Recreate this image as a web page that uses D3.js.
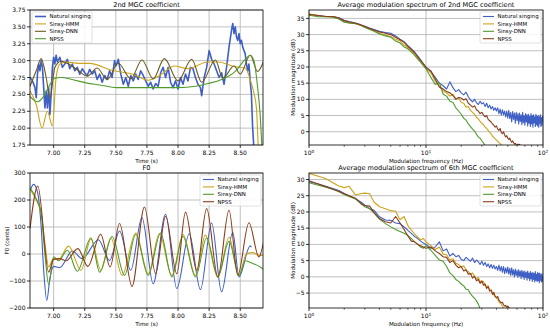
<!DOCTYPE html>
<html>
<head>
<meta charset="utf-8">
<script src="https://cdn.jsdelivr.net/npm/d3@7"></script>
<style>
body { margin: 0; background: #fff; }
svg { font-family: "DejaVu Sans", sans-serif; }
</style>
</head>
<body>
<svg id="chart" width="550" height="328"></svg>
<script>
//four panels: 2nd MGC track, F0 track, and two modulation spectra

var seriesNames = ["Natural singing", "Sinsy-HMM", "Sinsy-DNN", "NPSS"];

//---- 2nd MGC coefficient over time, [time, value]
var mgcNatural = [[6.81,2.75],[6.83,2.7],[6.85,2.6],[6.86,2.45],[6.87,2.8],[6.88,2.95],[6.89,2.85],[6.90,3.0],[6.91,2.9],[6.92,2.6],
  [6.93,2.3],[6.94,2.55],[6.95,2.3],[6.96,2.6],[6.97,2.2],[6.98,2.5],[6.99,2.9],[7.00,3.05],[7.01,2.95],[7.02,3.08],[7.03,2.98],
  [7.05,3.05],[7.07,2.9],[7.09,2.95],[7.11,3.02],[7.13,2.88],[7.15,2.95],[7.17,2.85],[7.19,2.9],[7.21,2.8],[7.23,2.88],[7.25,2.82],
  [7.27,2.78],[7.29,2.87],[7.31,2.8],[7.33,2.85],[7.35,2.72],[7.37,2.8],[7.39,2.68],[7.41,2.78],[7.43,2.72],[7.45,2.85],[7.47,2.75],
  [7.49,3.0],[7.50,2.92],[7.52,3.02],[7.54,2.8],[7.56,2.65],[7.58,2.75],[7.60,2.62],[7.62,2.78],[7.64,2.7],[7.66,2.8],[7.68,2.72],
  [7.70,2.85],[7.72,2.78],[7.74,2.7],[7.76,2.62],[7.78,2.68],[7.80,2.58],[7.82,2.66],[7.84,2.62],[7.86,2.82],[7.88,2.9],[7.90,2.75],
  [7.92,2.9],[7.94,2.68],[7.96,2.6],[7.98,2.7],[8.00,2.58],[8.02,2.75],[8.04,2.65],[8.06,2.8],[8.08,2.7],[8.10,2.9],[8.12,2.88],
  [8.14,2.75],[8.16,2.65],[8.18,2.6],[8.19,2.48],[8.21,2.75],[8.23,2.9],[8.25,3.15],[8.27,3.02],[8.29,2.95],[8.31,2.85],[8.33,2.75],
  [8.35,2.82],[8.37,2.65],[8.39,2.9],[8.41,3.2],[8.43,3.45],[8.44,3.55],[8.45,3.4],[8.46,3.5],[8.47,3.35],[8.48,3.3],[8.49,3.4],
  [8.50,3.25],[8.51,3.3],[8.52,3.2],[8.53,3.15],[8.54,3.1],[8.55,2.95],[8.56,2.85],[8.57,2.95],[8.58,2.7],[8.59,2.5],[8.60,2.0],[8.61,1.7]];
var mgcHmm = [[6.81,2.55],[6.86,2.35],[6.907,2.0],[6.95,2.25],[6.99,2.03],[7.02,2.75],[7.05,2.95],[7.10,2.98],[7.20,2.96],[7.29,2.96],
  [7.46,2.86],[7.65,2.79],[7.76,2.71],[7.86,2.79],[7.97,2.92],[8.08,2.88],[8.24,2.98],[8.32,2.98],[8.46,2.91],[8.54,2.89],
  [8.58,2.72],[8.61,2.52],[8.63,2.3],[8.645,1.7]];
var mgcDnn = [[6.81,2.62],[6.86,2.85],[6.90,3.03],[6.94,2.75],[6.97,2.45],[7.01,2.9],[7.06,2.99],[7.12,2.95],[7.20,2.85],[7.27,2.77],
  [7.35,2.89],[7.43,2.72],[7.52,2.96],[7.62,2.73],[7.71,3.01],[7.80,2.73],[7.89,3.03],[8.00,2.7],[8.11,3.02],[8.19,2.68],[8.30,3.01],
  [8.36,2.74],[8.45,2.92],[8.50,2.8],[8.58,3.08],[8.64,2.84],[8.69,3.0]];
var mgcNpss = [[6.81,2.47],[6.87,2.39],[6.92,2.47],[6.96,2.61],[7.01,2.74],[7.06,2.75],[7.15,2.72],[7.26,2.67],[7.37,2.64],[7.51,2.60],
  [7.78,2.60],[8.00,2.60],[8.14,2.62],[8.24,2.66],[8.35,2.72],[8.46,2.84],[8.54,3.02],[8.58,3.08],[8.61,3.0],[8.64,2.6],[8.66,2.2],[8.675,1.7]];

//---- F0 in cents, [time, value]
var f0Natural = [[6.81,235],[6.84,258],[6.87,230],[6.90,100],[6.92,-60],[6.945,-172],[6.97,-90],[7.00,-46],[7.05,-50],[7.15,11],
  [7.23,-17],[7.36,53],[7.45,-24],[7.53,85],[7.62,-60],[7.71,135],[7.80,-110],[7.90,147],[7.99,-128],[8.09,75],[8.18,-132],
  [8.27,115],[8.35,-140],[8.44,80],[8.49,-85],[8.58,30],[8.59,25]];
var f0Hmm = [[6.81,240],[6.86,200],[6.90,150],[6.93,40],[6.96,-48],[7.00,-15],[7.04,-20],[7.12,29],[7.22,-60],[7.30,56],[7.38,-60],
  [7.46,59],[7.55,-79],[7.66,78],[7.76,-73],[7.85,75],[7.95,-79],[8.04,72],[8.14,-79],[8.22,70],[8.32,-85],[8.41,62],[8.49,-79],
  [8.55,0],[8.60,5],[8.65,-5],[8.69,-5]];
var f0Dnn = [[6.81,245],[6.86,205],[6.90,150],[6.93,0],[6.96,-113],[7.00,-10],[7.04,-25],[7.11,14],[7.19,-64],[7.30,59],[7.37,-67],
  [7.47,65],[7.57,-79],[7.66,72],[7.76,-79],[7.86,78],[7.95,-85],[8.04,65],[8.14,-85],[8.23,59],[8.32,-85],[8.41,47],[8.49,-79],
  [8.54,-25],[8.60,-35],[8.65,-45],[8.69,-58]];
var f0Npss = [[6.81,94],[6.873,252],[6.96,-67],[7.00,-20],[7.05,-17],[7.10,-25],[7.195,20],[7.275,-46],[7.378,73],[7.454,-48],
  [7.53,113],[7.63,-120],[7.73,174],[7.82,-73],[7.90,140],[7.99,-73],[8.06,155],[8.15,-60],[8.23,168],[8.32,-85],[8.41,162],
  [8.48,-79],[8.57,116],[8.65,-11],[8.69,50]];

//---- modulation spectrum frequency bins (Hz)
var modFreq = [1,1.2,1.4,1.6,1.8,2,2.2,2.5,2.8,3,3.3,3.6,4,4.5,5,5.5,6,6.5,7,7.5,8,8.5,9,9.5,
  10,11,12,13,14,15,16,17,18,19,20,21,22,23,24,25,26,27,28,29,30,31,32,33,34,35,36,37,38,39,40,
  41,42,43,44,45,46,47,48,49,50,51,52,53,54,55,56,57,58,59,60,61,62,63,64,65,66,67,68,69,70,
  71,72,73,74,75,76,77,78,79,80,81,82,83,84,85,86,87,88,89,90,91,92,93,94,95,96,97,98,99,100];

//2nd MGC spectrum (dB), one value per bin, series stop once below the axis
var ms2Natural = [36.3,35.9,35.6,35.6,35.2,34.4,34.0,33.6,33.0,32.6,32.0,31.6,31.0,30.6,30.4,29.6,28.6,27.8,26.6,25.6,24.6,23.4,22.2,21.0,
  20.0,18.6,16.8,15.0,14.2,13.2,15.4,13.6,12.4,13.0,12.0,11.4,12.2,10.8,9.8,9.2,10.0,9.0,8.4,9.4,8.6,9.0,7.8,8.8,7.4,8.2,7.0,7.8,6.6,7.4,6.4,
  7.4,5.6,7.0,5.2,6.8,5.2,6.4,4.6,6.4,4.2,6.6,4.0,6.0,3.0,6.2,3.8,5.8,2.6,6.0,3.4,5.6,2.4,5.8,3.2,5.2,2.2,6.0,2.8,5.0,2.0,
  5.6,3.0,5.2,1.8,5.4,2.6,4.8,1.6,5.6,2.4,5.0,1.4,5.2,2.8,4.6,1.6,5.4,2.2,4.8,1.8,5.0,1.4,4.6,2.6,5.2,1.6,4.4,2.0,4.8,3.0];
var ms2Hmm = [36.4,35.8,35.5,35.5,35.0,34.0,33.6,33.4,32.8,32.4,31.8,31.2,30.4,29.8,29.4,28.6,28.0,26.8,26.0,25.0,24.0,22.8,21.8,20.8,
  19.6,18.2,15.6,14.0,12.6,12.0,11.0,11.6,10.2,10.4,9.0,8.8,7.6,7.8,6.6,6.0,5.4,4.4,4.0,3.2,2.6,2.2,1.4,1.0,0.4,-0.2,-0.6,-1.4,-1.8,-2.2,-2.6,
  -3.0,-3.4,-3.6,-4.2,-4.6];
var ms2Dnn = [36.0,35.5,35.5,35.4,34.8,33.8,33.6,33.4,32.8,32.2,31.6,31.0,30.2,29.6,29.2,28.0,27.4,26.2,25.6,24.6,23.6,22.4,21.4,20.4,
  19.4,16.8,14.6,15.2,11.6,11.0,9.4,9.0,7.4,6.4,5.4,4.2,3.6,2.4,1.6,0.8,0.2,-0.8,-1.6,-2.0,-2.8,-3.4,-4.4];
var ms2Npss = [36.2,35.9,35.6,35.6,35.1,34.3,33.9,33.5,32.9,32.5,31.9,31.4,30.8,30.4,30.0,29.2,28.4,27.6,26.4,25.4,24.4,23.2,22.0,21.0,
  19.8,18.8,16.2,13.8,13.2,12.4,12.0,11.2,10.0,10.6,10.4,9.8,10.2,8.8,8.2,7.6,8.0,6.8,6.4,5.6,6.0,5.2,4.6,5.0,3.8,3.4,3.0,2.4,2.0,1.4,1.8,
  0.8,0.4,1.0,-0.2,-0.6,0.0,-1.0,-1.6,-1.2,-2.0,-2.4,-2.0,-2.8,-3.2,-2.8,-3.4,-3.8,-3.6,-4.0,-4.4,-3.8,-4.2,-3.9,-4.4];

//6th MGC spectrum (dB)
var ms6Natural = [29.3,28.6,27.8,27.2,26.6,25.7,25.0,24.1,23.0,22.1,21.0,20.5,18.5,17.5,17.4,16.6,16.4,15.4,14.3,13.4,12.4,11.8,11.0,10.4,
  10.0,8.8,9.2,10.8,8.0,8.6,6.4,7.2,6.2,6.6,5.4,5.0,6.0,5.4,4.8,5.8,4.4,5.2,4.6,3.8,4.8,3.6,4.4,3.2,4.0,2.8,3.8,2.6,3.6,2.4,3.2,
  2.0,3.6,1.8,3.2,1.4,3.2,1.0,2.8,1.2,3.0,0.8,2.6,0.4,2.8,0.6,2.2,0.0,2.4,0.4,2.0,-0.2,2.2,0.2,1.8,-0.6,2.0,0.0,1.6,-0.8,1.8,
  -0.2,1.4,-1.0,1.8,-0.4,1.2,-1.2,1.6,-0.6,1.2,-1.4,1.4,-0.8,1.0,-1.6,1.6,-1.0,0.8,-1.4,1.4,-1.2,1.0,-1.8,1.2,-1.0,0.6,-1.6,1.0,-1.4,0.2];
var ms6Hmm = [31.9,31.0,30.2,29.0,28.0,27.5,27.9,25.2,25.7,25.8,25.6,23.0,21.6,21.0,20.4,20.2,17.6,18.6,15.8,14.4,13.2,12.2,11.4,11.8,
  10.8,9.6,8.4,9.2,7.0,6.8,5.2,5.6,4.2,3.8,3.0,3.4,2.0,1.6,0.8,1.2,0.0,-0.6,-0.2,-1.4,-1.8,-1.4,-2.6,-3.0,-2.8,-4.0,-4.4,-4.8,-5.6,-6.0,-6.6,
  -6.8,-7.6,-8.0,-8.4,-9.0,-9.8];
var ms6Dnn = [29.0,28.2,27.6,27.0,26.2,25.4,24.8,24.0,22.6,21.6,21.0,19.6,17.8,16.4,15.4,14.6,14.0,13.4,12.8,11.8,10.8,10.0,9.2,8.8,
  9.6,8.2,6.6,5.2,4.8,3.2,1.2,0.4,-0.8,-1.4,-2.2,-2.8,-3.8,-4.0,-5.2,-6.0,-6.6,-7.4,-8.4,-9.8];
var ms6Npss = [29.6,28.6,27.8,27.0,26.4,25.6,25.0,24.2,22.4,22.0,21.8,19.8,18.0,17.0,16.6,18.6,16.6,14.6,12.6,11.0,10.8,10.0,9.6,9.2,
  8.8,9.2,8.0,7.2,6.2,6.0,4.4,5.0,3.6,2.8,3.2,1.8,2.2,0.8,1.0,-0.4,0.2,-1.2,-0.8,-2.0,-1.2,-2.6,-2.2,-3.6,-3.0,-4.4,-4.0,-5.4,-4.8,-6.0,-6.4,
  -6.0,-7.2,-7.6,-8.0,-7.8,-8.6,-9.0,-8.8,-9.4,-9.0,-9.4,-9.8];

//---- ticks
var timeTicks = [7.00, 7.25, 7.50, 7.75, 8.00, 8.25, 8.50];
var mgcTicks = [1.75, 2.00, 2.25, 2.50, 2.75, 3.00, 3.25, 3.50, 3.75];
var f0Ticks = [-200, -100, 0, 100, 200, 300];
var ms2Ticks = [0, 5, 10, 15, 20, 25, 30, 35];
var ms6Ticks = [-5, 0, 5, 10, 15, 20, 25, 30];
var decadeTicks = [1, 10, 100];

var blue = "#3f5fc4", yellow = "#cca41a", green = "#4f9b2c", brown = "#8a3c1c", olive = "#6e5a1e";

var svg = d3.select("#chart");
var minus = function(d){ return d < 0 ? "\u2212" + Math.abs(d) : "" + d; };

function pairsOf(freq, vals){
    return vals.map(function(v, i){ return [freq[i], v]; });
}

function drawPanel(o){
    var g = svg.append("g");
    var x = o.x, y = o.y;
    var x0 = x.range()[0], x1 = x.range()[1], yb = y.range()[0], yt = y.range()[1];

    //grid
    g.selectAll(".gx").data(o.xGrid).enter().append("line")
        .attr("x1", function(d){ return x(d); }).attr("x2", function(d){ return x(d); })
        .attr("y1", yt).attr("y2", yb).attr("stroke", "#b0b0b0").attr("stroke-width", 0.8);
    g.selectAll(".gy").data(o.yTicks).enter().append("line")
        .attr("x1", x0).attr("x2", x1)
        .attr("y1", function(d){ return y(d); }).attr("y2", function(d){ return y(d); })
        .attr("stroke", "#b0b0b0").attr("stroke-width", 0.8);

    //lines, clipped to the axes box
    var clipId = "clip" + o.id;
    svg.append("clipPath").attr("id", clipId).append("rect")
        .attr("x", x0).attr("y", yt).attr("width", x1 - x0).attr("height", yb - yt);
    var lg = g.append("g").attr("clip-path", "url(#" + clipId + ")");
    o.series.forEach(function(s){
        var line = d3.line().x(function(d){ return x(d[0]); }).y(function(d){ return y(d[1]); })
            .curve(s.curve || d3.curveLinear);
        lg.append("path").attr("d", line(s.data)).attr("fill", "none")
            .attr("stroke", s.color).attr("stroke-width", s.width || 1.1).attr("stroke-linejoin", "round");
    });

    //frame
    g.append("rect").attr("x", x0).attr("y", yt).attr("width", x1 - x0).attr("height", yb - yt)
        .attr("fill", "none").attr("stroke", "#000").attr("stroke-width", 0.8);

    //x ticks
    g.selectAll(".tx").data(o.xTicks).enter().append("line")
        .attr("x1", function(d){ return x(d); }).attr("x2", function(d){ return x(d); })
        .attr("y1", yb).attr("y2", yb + 3).attr("stroke", "#000").attr("stroke-width", 0.8);
    if (o.minorX){
        g.selectAll(".mx").data(o.minorX).enter().append("line")
            .attr("x1", function(d){ return x(d); }).attr("x2", function(d){ return x(d); })
            .attr("y1", yb).attr("y2", yb + 1.8).attr("stroke", "#000").attr("stroke-width", 0.6);
    }
    var xl = g.selectAll(".lx").data(o.xTicks).enter().append("text")
        .attr("x", function(d){ return x(d); }).attr("y", yb + 10)
        .attr("text-anchor", "middle").attr("font-size", 6);
    if (o.logX){
        xl.text("10").append("tspan").attr("dy", -2.5).attr("font-size", 4.3)
            .text(function(d){ return Math.round(Math.log10(d)); });
    } else {
        xl.text(o.xFormat);
    }

    //y ticks
    g.selectAll(".ty").data(o.yTicks).enter().append("line")
        .attr("x1", x0 - 3).attr("x2", x0)
        .attr("y1", function(d){ return y(d); }).attr("y2", function(d){ return y(d); })
        .attr("stroke", "#000").attr("stroke-width", 0.8);
    g.selectAll(".ly").data(o.yTicks).enter().append("text")
        .attr("x", x0 - 4.5).attr("y", function(d){ return y(d) + 2.1; })
        .attr("text-anchor", "end").attr("font-size", 6).text(o.yFormat);

    //title and labels
    g.append("text").attr("x", (x0 + x1) / 2).attr("y", yt - 3).attr("text-anchor", "middle")
        .attr("font-size", 6.6).text(o.title);
    g.append("text").attr("x", (x0 + x1) / 2).attr("y", yb + 17.5).attr("text-anchor", "middle")
        .attr("font-size", 5.6).text(o.xLabel);
    if (o.yLabel){
        g.append("text").attr("transform", "translate(" + o.yLabelX + "," + (yt + yb) / 2 + ") rotate(-90)")
            .attr("text-anchor", "middle").attr("font-size", 5.6).text(o.yLabel);
    }

    //legend
    var L = o.legend;
    var lgd = g.append("g").attr("transform", "translate(" + L.x + "," + L.y + ")");
    lgd.append("rect").attr("width", L.w).attr("height", 31).attr("rx", 1.5)
        .attr("fill", "#fff").attr("fill-opacity", 0.85).attr("stroke", "#ccc").attr("stroke-width", 0.6);
    o.series.forEach(function(s, i){
        var yy = 4.5 + i * 7.4;
        lgd.append("line").attr("x1", 3).attr("x2", 14).attr("y1", yy).attr("y2", yy)
            .attr("stroke", s.color).attr("stroke-width", s.width || 1.1);
        lgd.append("text").attr("x", 17.5).attr("y", yy + 1.9).attr("font-size", 5.4).text(seriesNames[i]);
    });
}

var timeX = d3.scaleLinear().domain([6.81, 8.683]).range([30, 263]);
var minorFreq = [2,3,4,5,6,7,8,9,20,30,40,50,60,70,80,90];
var smooth = d3.curveMonotoneX;

drawPanel({
    id: "a", title: "2nd MGC coefficient", xLabel: "Time (s)",
    x: timeX, y: d3.scaleLinear().domain([1.75, 3.75]).range([145, 10]),
    xTicks: timeTicks, xGrid: timeTicks, yTicks: mgcTicks,
    xFormat: d3.format(".2f"), yFormat: d3.format(".2f"),
    legend: { x: 32, y: 12, w: 60 },
    series: [
        { data: mgcNatural, color: blue, width: 1.6 },
        { data: mgcHmm, color: yellow, curve: smooth },
        { data: mgcDnn, color: olive, curve: smooth },
        { data: mgcNpss, color: green, curve: smooth }
    ]
});

drawPanel({
    id: "b", title: "Average modulation spectrum of 2nd MGC coefficient", xLabel: "Modulation frequency (Hz)",
    yLabel: "Modulation magnitude (dB)", yLabelX: 295,
    x: d3.scaleLog().domain([1, 100]).range([309, 543]), y: d3.scaleLinear().domain([-4.1, 37.6]).range([145, 10]),
    logX: true, xTicks: decadeTicks, xGrid: decadeTicks, minorX: minorFreq, yTicks: ms2Ticks, yFormat: minus,
    legend: { x: 480, y: 12, w: 61 },
    series: [
        { data: pairsOf(modFreq, ms2Natural), color: blue },
        { data: pairsOf(modFreq, ms2Hmm), color: yellow },
        { data: pairsOf(modFreq, ms2Dnn), color: green },
        { data: pairsOf(modFreq, ms2Npss), color: brown }
    ]
});

drawPanel({
    id: "c", title: "F0", xLabel: "Time (s)", yLabel: "F0 (cents)", yLabelX: 9,
    x: timeX, y: d3.scaleLinear().domain([-200, 300]).range([308, 173]),
    xTicks: timeTicks, xGrid: timeTicks, yTicks: f0Ticks,
    xFormat: d3.format(".2f"), yFormat: minus,
    legend: { x: 200, y: 175, w: 61 },
    series: [
        { data: f0Natural, color: blue, curve: smooth },
        { data: f0Hmm, color: yellow, curve: smooth },
        { data: f0Dnn, color: green, curve: smooth },
        { data: f0Npss, color: brown, curve: smooth }
    ]
});

drawPanel({
    id: "d", title: "Average modulation spectrum of 6th MGC coefficient", xLabel: "Modulation frequency (Hz)",
    yLabel: "Modulation magnitude (dB)", yLabelX: 295,
    x: d3.scaleLog().domain([1, 100]).range([309, 543]), y: d3.scaleLinear().domain([-9.6, 32]).range([308, 173]),
    logX: true, xTicks: decadeTicks, xGrid: decadeTicks, minorX: minorFreq, yTicks: ms6Ticks, yFormat: minus,
    legend: { x: 480, y: 175, w: 61 },
    series: [
        { data: pairsOf(modFreq, ms6Natural), color: blue },
        { data: pairsOf(modFreq, ms6Hmm), color: yellow },
        { data: pairsOf(modFreq, ms6Dnn), color: green },
        { data: pairsOf(modFreq, ms6Npss), color: brown }
    ]
});
</script>
</body>
</html>
